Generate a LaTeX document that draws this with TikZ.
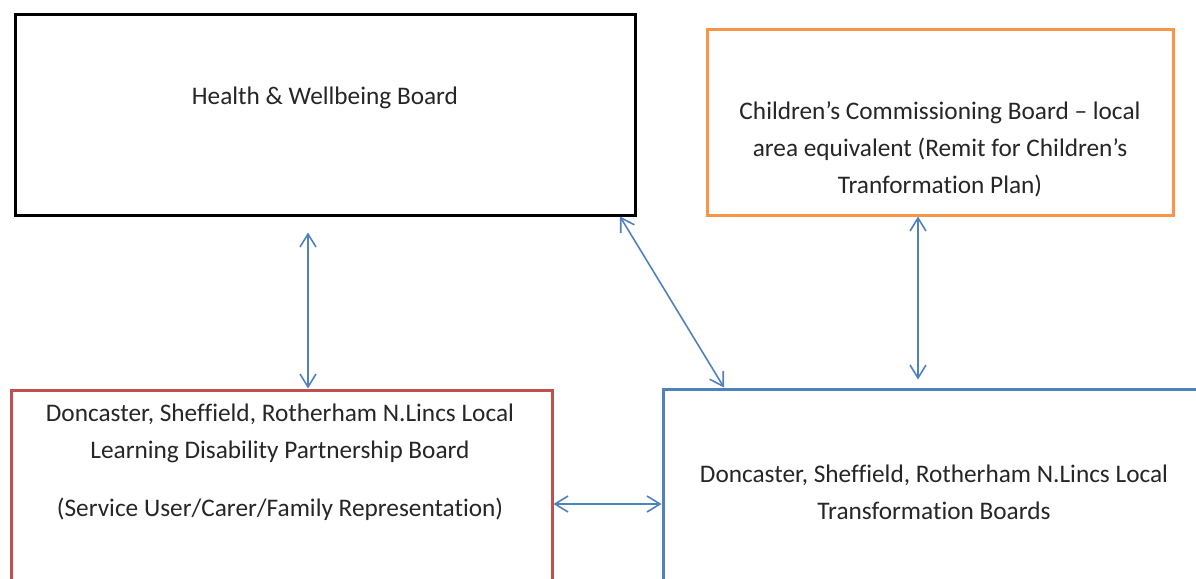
\documentclass[tikz,border=0pt]{standalone}
\usepackage{fontspec}
\setmainfont{Carlito}[Ligatures=NoCommon]
\usepackage{xcolor}
\usepackage{tikz}
\usetikzlibrary{arrows.meta, positioning}
\definecolor{boardblack}{RGB}{0,0,0}
\definecolor{boardorange}{RGB}{247,150,70}
\definecolor{boardred}{RGB}{192,80,77}
\definecolor{boardblue}{RGB}{79,129,189}
\definecolor{linkblue}{RGB}{79,129,189}
\definecolor{textdark}{RGB}{38,38,38}
\tikzset{
    board/.style={rectangle, draw, line width=3pt, fill=white, inner sep=0pt},
    boardtext/.style={align=center, text=textdark, font=\fontsize{25.3}{37}\selectfont, inner sep=0pt},
    link/.style={{Straight Barb[length=13pt,width=16pt]}-{Straight Barb[length=13pt,width=16pt]}, line width=1.6pt, color=linkblue}
}
\begin{document}
\begin{tikzpicture}[x=1pt, y=-1pt]
    \clip (0,0) rectangle (1196,578);
    % Boards
    \node[board, draw=boardblack, minimum width=620pt, minimum height=200pt] (hwb) at (325,115) {};
    \node[board, draw=boardorange, minimum width=466pt, minimum height=185pt] (ccb) at (940,122.5) {};
    \node[board, draw=boardred, minimum width=541pt, minimum height=220pt] (ldpb) at (281.5,500) {};
    \node[board, draw=boardblue, minimum width=557pt, minimum height=221pt] (ltb) at (941.5,499.5) {};

    % Board texts
    \node[boardtext] (hwbtext) at (325,98) {Health \& Wellbeing Board};
    \node[boardtext] (ccbtext) at (940,149) {Children’s Commissioning Board – local\\area equivalent (Remit for Children’s\\Tranformation Plan)};
    \node[boardtext] (ldpbtext) at (280,462) {Doncaster, Sheffield, Rotherham N.Lincs Local\\Learning Disability Partnership Board\\[21pt](Service User/Carer/Family Representation)};
    \node[boardtext] (ltbtext) at (934,492) {Doncaster, Sheffield, Rotherham N.Lincs Local\\Transformation Boards};

    % Links
    \draw[link, shorten <=16pt] ([xshift=-17pt]hwb.south) -- ([xshift=-17pt]hwb.south |- ldpb.north);
    \draw[link] ([xshift=-16.5pt]hwb.south east) -- ([xshift=62.5pt]ltb.north west);
    \draw[link, shorten >=8pt] ([xshift=-22pt]ccb.south) -- ([xshift=-22pt]ccb.south |- ltb.north);
    \draw[link] ([yshift=-4pt]ldpb.east) -- ([yshift=-4pt]ldpb.east -| ltb.west);
\end{tikzpicture}
\end{document}
